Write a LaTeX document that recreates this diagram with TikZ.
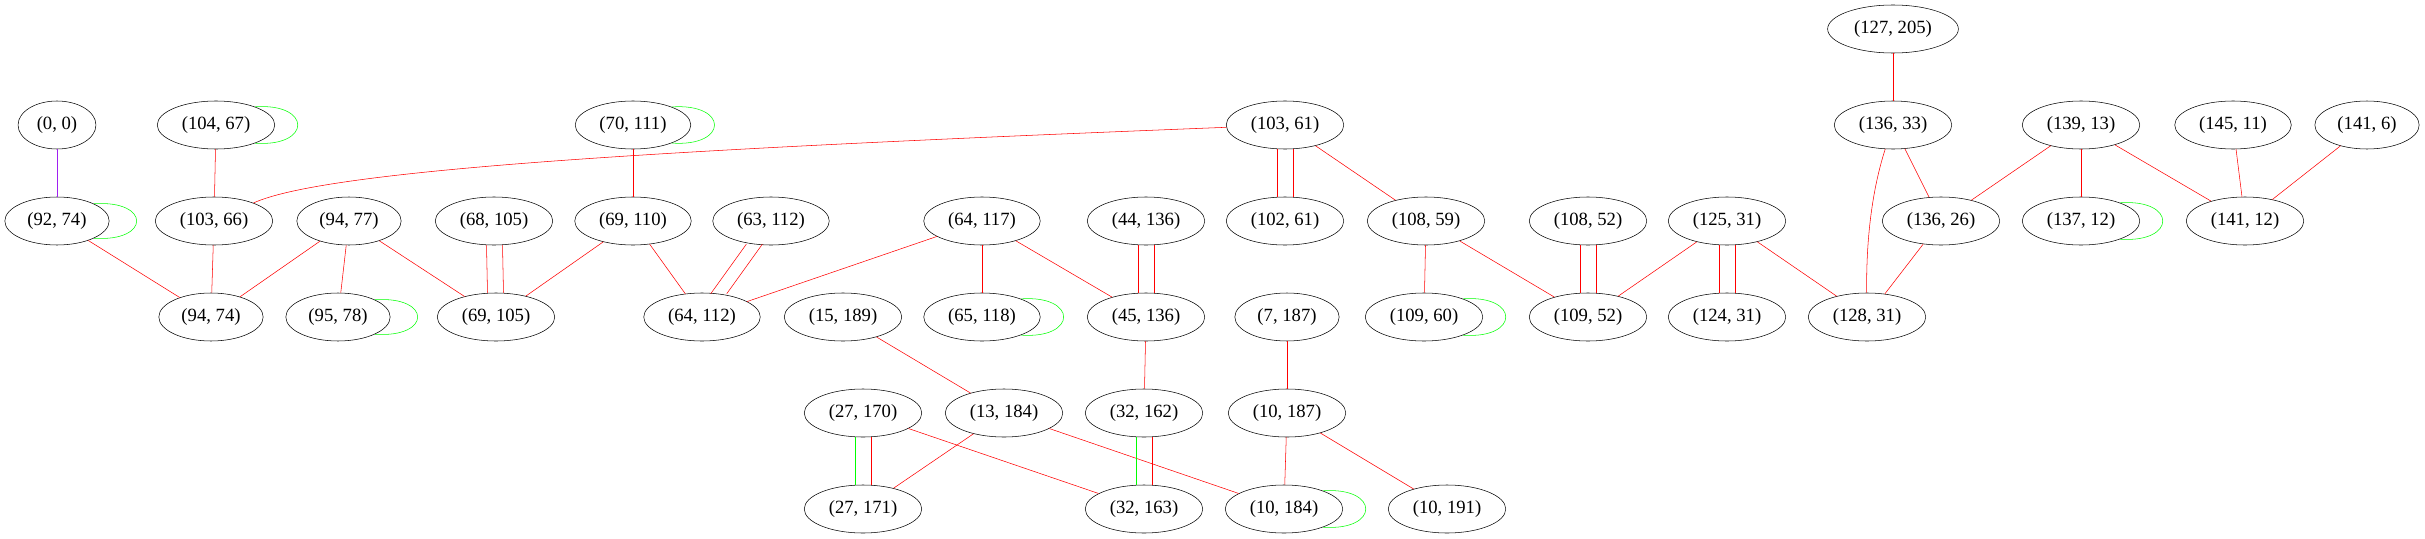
\documentclass[tikz,border=0pt]{standalone}
\usepackage{fontspec}
\setmainfont{Liberation Serif}
\usetikzlibrary{shapes.geometric}
\pgfdeclarelayer{edgelayer}
\pgfdeclarelayer{nodelayer}
\pgfsetlayers{nodelayer,main,edgelayer}
\definecolor{gvred}{RGB}{255,0,0}
\definecolor{gvgreen}{RGB}{0,255,0}
\definecolor{gvpurple}{RGB}{160,32,240}

\begin{document}
\begin{tikzpicture}[x=0.75pt, y=-0.75pt, line width=1.2pt,
	vertex/.style={draw, ellipse, inner xsep=5.5pt, inner ysep=2pt, minimum width=54pt, minimum height=36pt, font=\fontsize{14}{16}\selectfont},
	link/.style={gvred},
	selfloop/.style={gvgreen},
	left twin/.style={transform canvas={xshift=-6pt}},
	right twin/.style={transform canvas={xshift=6pt}}]
	\useasboundingbox (0, 0) rectangle (2425, 539);
	\begin{pgfonlayer}{nodelayer}
		\node [vertex] (0) at (1893, 29) {(127, 205)};
		\node [vertex] (1) at (57, 125) {(0, 0)};
		\node [vertex] (2) at (216, 125) {(104, 67)};
		\node [vertex] (3) at (633, 125) {(70, 111)};
		\node [vertex] (4) at (1285, 125) {(103, 61)};
		\node [vertex] (5) at (1893, 125) {(136, 33)};
		\node [vertex] (6) at (2081, 125) {(139, 13)};
		\node [vertex] (7) at (2233, 125) {(145, 11)};
		\node [vertex] (8) at (2367, 125) {(141, 6)};
		\node [vertex] (9) at (57, 221) {(92, 74)};
		\node [vertex] (10) at (214, 221) {(103, 66)};
		\node [vertex] (11) at (349, 221) {(94, 77)};
		\node [vertex] (12) at (494, 221) {(68, 105)};
		\node [vertex] (13) at (633, 221) {(69, 110)};
		\node [vertex] (14) at (771, 221) {(63, 112)};
		\node [vertex] (15) at (982, 221) {(64, 117)};
		\node [vertex] (16) at (1146, 221) {(44, 136)};
		\node [vertex] (17) at (1285, 221) {(102, 61)};
		\node [vertex] (18) at (1426, 221) {(108, 59)};
		\node [vertex] (19) at (1588, 221) {(108, 52)};
		\node [vertex] (20) at (1727, 221) {(125, 31)};
		\node [vertex] (21) at (1941, 221) {(136, 26)};
		\node [vertex] (22) at (2081, 221) {(137, 12)};
		\node [vertex] (23) at (2245, 221) {(141, 12)};
		\node [vertex] (24) at (211, 317) {(94, 74)};
		\node [vertex] (25) at (338, 317) {(95, 78)};
		\node [vertex] (26) at (496, 317) {(69, 105)};
		\node [vertex] (27) at (702, 317) {(64, 112)};
		\node [vertex] (28) at (843, 317) {(15, 189)};
		\node [vertex] (29) at (982, 317) {(65, 118)};
		\node [vertex] (30) at (1146, 317) {(45, 136)};
		\node [vertex] (31) at (1287, 317) {(7, 187)};
		\node [vertex] (32) at (1424, 317) {(109, 60)};
		\node [vertex] (33) at (1588, 317) {(109, 52)};
		\node [vertex] (34) at (1727, 317) {(124, 31)};
		\node [vertex] (35) at (1867, 317) {(128, 31)};
		\node [vertex] (36) at (863, 413) {(27, 170)};
		\node [vertex] (37) at (1004, 413) {(13, 184)};
		\node [vertex] (38) at (1144, 413) {(32, 162)};
		\node [vertex] (39) at (1287, 413) {(10, 187)};
		\node [vertex] (40) at (863, 509) {(27, 171)};
		\node [vertex] (41) at (1144, 509) {(32, 163)};
		\node [vertex] (42) at (1284, 509) {(10, 184)};
		\node [vertex] (43) at (1447, 509) {(10, 191)};
	\end{pgfonlayer}
	\begin{pgfonlayer}{edgelayer}
		\draw [gvpurple] (1) to (9);
		\draw [link] (2) to (10);
		\draw [link] (3) to (13);
		\draw [link] (4) .. controls (700, 148) and (330, 168) .. (10);
		\draw [link, left twin] (4) to (17);
		\draw [link, right twin] (4) to (17);
		\draw [link] (4) to (18);
		\draw [link] (0) to (5);
		\draw [link] (5) to (21);
		\draw [link] (5) .. controls (1872, 190) and (1866, 240) .. (35);
		\draw [link] (6) to (21);
		\draw [link] (6) to (22);
		\draw [link] (6) to (23);
		\draw [link] (7) to (23);
		\draw [link] (8) to (23);
		\draw [link] (9) to (24);
		\draw [link] (10) to (24);
		\draw [link] (11) to (24);
		\draw [link] (11) to (25);
		\draw [link] (11) to (26);
		\draw [link, left twin] (12) to (26);
		\draw [link, right twin] (12) to (26);
		\draw [link] (13) to (26);
		\draw [link] (13) to (27);
		\draw [link, left twin] (14) to (27);
		\draw [link, right twin] (14) to (27);
		\draw [link] (15) to (27);
		\draw [link] (15) to (29);
		\draw [link] (15) to (30);
		\draw [link, left twin] (16) to (30);
		\draw [link, right twin] (16) to (30);
		\draw [link] (18) to (32);
		\draw [link] (18) to (33);
		\draw [link, left twin] (19) to (33);
		\draw [link, right twin] (19) to (33);
		\draw [link] (20) to (33);
		\draw [link, left twin] (20) to (34);
		\draw [link, right twin] (20) to (34);
		\draw [link] (20) to (35);
		\draw [link] (21) to (35);
		\draw [link] (28) to (37);
		\draw [link] (30) to (38);
		\draw [link] (31) to (39);
		\draw [selfloop, left twin] (36) to (40);
		\draw [link, right twin] (36) to (40);
		\draw [link] (36) to (41);
		\draw [link] (37) to (40);
		\draw [link] (37) to (42);
		\draw [selfloop, left twin] (38) to (41);
		\draw [link, right twin] (38) to (41);
		\draw [link] (39) to (42);
		\draw [link] (39) to (43);
		% self loops
		\draw [selfloop] (2.25) .. controls +(57, -4) and +(57, 4) .. (2.-25);
		\draw [selfloop] (3.25) .. controls +(57, -4) and +(57, 4) .. (3.-25);
		\draw [selfloop] (9.25) .. controls +(57, -4) and +(57, 4) .. (9.-25);
		\draw [selfloop] (22.25) .. controls +(57, -4) and +(57, 4) .. (22.-25);
		\draw [selfloop] (25.25) .. controls +(57, -4) and +(57, 4) .. (25.-25);
		\draw [selfloop] (29.25) .. controls +(57, -4) and +(57, 4) .. (29.-25);
		\draw [selfloop] (32.25) .. controls +(57, -4) and +(57, 4) .. (32.-25);
		\draw [selfloop] (42.25) .. controls +(57, -4) and +(57, 4) .. (42.-25);
	\end{pgfonlayer}
\end{tikzpicture}
\end{document}
